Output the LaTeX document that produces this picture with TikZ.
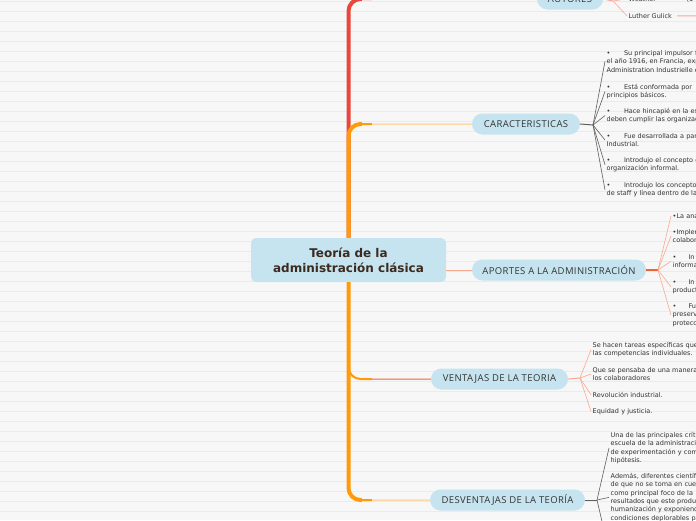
\documentclass[tikz,border=0pt]{standalone}
\usepackage{fontspec}
\setmainfont{DejaVu Sans}
\newfontfamily\topicfont[LetterSpace=4]{Open Sans}
\definecolor{paper}{HTML}{F7F7F7}
\definecolor{rule}{HTML}{EBEBEB}
\definecolor{topicblue}{HTML}{C6E4EF}
\definecolor{trunkred}{HTML}{E9473D}
\definecolor{trunkorange}{HTML}{FF9A0A}
\definecolor{twigpink}{HTML}{F5A9A3}
\definecolor{twigorange}{HTML}{FFC87E}
\definecolor{twigsalmon}{HTML}{F8A98F}
\definecolor{twigred}{HTML}{EE6436}
\definecolor{twiggray}{HTML}{5F5F5F}
\definecolor{inkgray}{HTML}{333333}
\definecolor{inkbrown}{HTML}{3B2A20}
\begin{document}
\begin{tikzpicture}[x=1pt,y=-1pt,
    central/.style={fill=topicblue,rounded corners=5pt,minimum width=195pt,
        minimum height=44pt,inner sep=0pt,align=center,text=inkbrown,
        font=\fontsize{12}{15}\selectfont\bfseries},
    topic/.style={fill=topicblue,rounded corners=10.5pt,minimum height=21pt,
        inner sep=0pt,text=inkgray,font=\topicfont\fontsize{9.5}{11}\selectfont},
    leaf/.style={anchor=base west,inner xsep=1.5pt,inner ysep=1pt,
        text width=260pt,align=left,text=inkgray,
        font=\fontsize{6.5}{8.4}\selectfont},
    word/.style={anchor=base west,inner xsep=1.5pt,inner ysep=1pt,
        text=inkgray,font=\fontsize{6.5}{8.4}\selectfont},
    trunk/.style={line width=4pt,rounded corners=12pt},
    elbow/.style={line width=2pt,rounded corners=12pt},
    twig/.style={line width=1pt,rounded corners=12pt},
    fan/.style={line width=0.6pt}]
    \useasboundingbox (0,0) rectangle (696,520);
    \clip (0,0) rectangle (696,520);
    \fill[paper] (0,0) rectangle (696,520);
    \foreach \y in {1.3,11.3,...,521}
        \draw[rule,line width=0.9pt] (0,\y)--(696,\y);
    \def\bul{\textbullet\hspace{13.5pt}}
    \node[central] (teo) at (348.5,260) {Teoría de la\\administración clásica};
    \node[topic,minimum width=66pt] (aut) at (570,-1) {AUTORES};
    \node[topic,minimum width=108pt] (car) at (526,124) {CARACTERISTICAS};
    \node[topic,minimum width=174pt] (apo) at (559,270) {APORTES A LA ADMINISTRACIÓN};
    \node[topic,minimum width=137pt] (ven) at (499.5,379) {VENTAJAS DE LA TEORIA};
    \node[topic,minimum width=155pt] (des) at (507.5,500) {DESVENTAJAS DE LA TEORÍA};
    \draw[twig,twigpink] (teo.north) |- (aut.west);
    \draw[elbow,trunkred] (teo.north) |- ([xshift=-165pt]aut.west);
    \draw[trunk,trunkred] (teo.north) |- ([xshift=-175pt]aut.west);
    \draw[twig,twigorange] (teo.north) |- (car.west);
    \draw[elbow,trunkorange] (teo.north) |- ([xshift=-100pt]car.west);
    \draw[trunk,trunkorange] (teo.north) |- ([xshift=-110pt]car.west);
    \draw[twig,twigred] (teo.south) |- (ven.west);
    \draw[elbow,trunkorange] (teo.south) |- ([xshift=-59pt]ven.west);
    \draw[twig,twigorange] (teo.south) |- (des.west);
    \draw[elbow,trunkorange] (teo.south) |- ([xshift=-58pt]des.west);
    \draw[trunk,trunkorange] (teo.south) |- ([xshift=-68pt]des.west);
    \draw[twig,twigsalmon] (teo.east |- apo.west) -- (apo.west);
    \node[word] (wea) at (627,1.3) {Weather};
    \node[word] (yr) at (685,1.3) {(1};
    \node[word] (lut) at (627,18.3) {Luther Gulick};
    \coordinate (aj) at (613,1);
    \coordinate (lutend) at (702,16);
    \draw[fan,twigpink,line width=1pt] (aut.east) -- (aj);
    \draw[fan,twigpink] (aj) -- (wea.west);
    \draw[fan,twigpink] (aj) -- (lut.west);
    \draw[twigpink,line width=1pt,shorten <=1.5pt,shorten >=9pt] (wea.east) -- (yr.west);
    \draw[twigpink,line width=1pt,shorten <=3.5pt] (lut.east) -- (lutend);
    \node[leaf] (c1) at (605,55.3) {\bul Su principal impulsor fue\\el año 1916, en Francia, expuso\\Administration Industrielle et};
    \node[leaf] (c2) at (605,89.3) {\bul Está conformada por\\principios básicos.};
    \node[leaf] (c3) at (605,113.3) {\bul Hace hincapié en la estructura\\deben cumplir las organizaciones};
    \node[leaf] (c4) at (605,138.3) {\bul Fue desarrollada a partir\\Industrial.};
    \node[leaf] (c5) at (605,162.3) {\bul Introdujo el concepto de\\organización informal.};
    \node[leaf] (c6) at (605,187.3) {\bul Introdujo los conceptos\\de staff y línea dentro de la};
    \coordinate (cj) at (593,125);
    \draw[twiggray,line width=1pt] (car.east) -- (cj);
    \foreach \i in {1,...,6}
        \draw[fan,twiggray] (cj) -- (c\i.west);
    \node[leaf] (a1) at (671,218.3) {\textbullet La ana};
    \node[leaf] (a2) at (671,234.3) {\textbullet Implem\\colabora};
    \node[leaf] (a3) at (671,259.3) {\textbullet\hspace{12pt}In\\informa};
    \node[leaf] (a4) at (671,284.3) {\textbullet\hspace{12pt}In\\product};
    \node[leaf] (a5) at (671,308.3) {\textbullet\hspace{12pt}Fu\\preserv\\protecc};
    \coordinate (pj) at (658,270);
    \draw[twigred,line width=1.8pt] (apo.east) -- (pj);
    \foreach \i in {1,...,5}
        \draw[fan,twigsalmon] (pj) -- (a\i.west);
    \node[leaf] (v1) at (591,347.3) {Se hacen tareas específicas que\\las competencias individuales.};
    \node[leaf] (v2) at (591,372.3) {Que se pensaba de una manera\\los colaboradores};
    \node[leaf] (v3) at (591,397.3) {Revolución industrial.};
    \node[leaf] (v4) at (591,413.3) {Equidad y justicia.};
    \coordinate (vj) at (580,378);
    \draw[twigsalmon,line width=1pt] (ven.east) -- (vj);
    \foreach \i in {1,...,4}
        \draw[fan,twigsalmon] (vj) -- (v\i.west);
    \node[leaf] (d1) at (609,437.3) {Una de las principales críticas\\escuela de la administración\\de experimentación y comprobación\\hipótesis.};
    \node[leaf] (d2) at (609,478.3) {Además, diferentes científicos\\de que no se toma en cuenta\\como principal foco de la\\resultados que este produce\\humanización y exponiendo\\condiciones deplorables para};
    \coordinate (dj) at (597,500);
    \coordinate (d3) at (604,530);
    \draw[twiggray,line width=1pt] (des.east) -- (dj);
    \draw[fan,twiggray] (dj) -- (d1.west);
    \draw[fan,twiggray] (dj) -- (d2.west);
    \draw[fan,twiggray] (dj) -- (d3);
\end{tikzpicture}
\end{document}
